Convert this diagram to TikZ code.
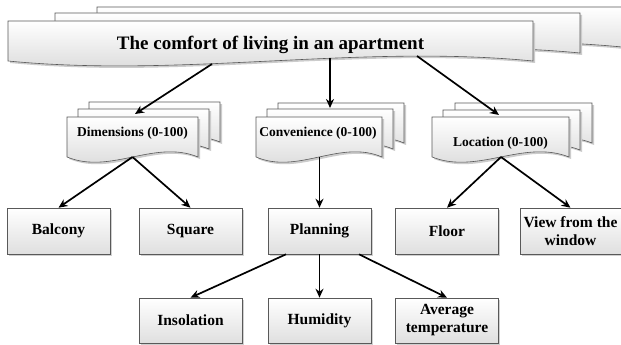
\documentclass[tikz,border=0pt]{standalone}
\usepackage{fontspec}
\setmainfont{Liberation Serif}
\usetikzlibrary{arrows.meta,shadows}
\tikzset{
  docstyle/.style={draw=gray!70!black, line width=0.6pt, top color=white, bottom color=gray!32},
  docshadow/.style={fill=gray!40},
  titletext/.style={font=\fontsize{19}{22}\selectfont\bfseries, inner sep=0pt},
  doctext/.style={font=\fontsize{13.5}{16}\selectfont\bfseries, inner sep=0pt},
  boxstyle/.style={draw=gray!70!black, line width=0.6pt, top color=white, bottom color=gray!25,
    minimum width=103pt, minimum height=46pt, inner sep=0pt, align=center,
    font=\fontsize{15.5}{18}\selectfont\bfseries,
    drop shadow={shadow xshift=1.5pt, shadow yshift=-1.5pt, fill=gray!60, opacity=0.6}},
  conn/.style={-{Stealth[length=9pt,width=8pt]}, line width=1.7pt, black},
}
% #1 x, #2 y (top), #3 width, #4 height to base, #5 wave control offset
\newcommand{\mydoc}[5]{%
  \path[docshadow] ({#1+2},{#2+2}) -- ({#1+#3+2},{#2+2}) -- ({#1+#3+2},{#2+#4+2})
    .. controls ({#1+2*#3/3+2},{#2+#4-#5+2}) and ({#1+#3/3+2},{#2+#4+#5+2}) .. ({#1+2},{#2+#4+2}) -- cycle;
  \path[docstyle] (#1,#2) -- ({#1+#3},#2) -- ({#1+#3},{#2+#4})
    .. controls ({#1+2*#3/3},{#2+#4-#5}) and ({#1+#3/3},{#2+#4+#5}) .. (#1,{#2+#4}) -- cycle;
}
\begin{document}
\begin{tikzpicture}[x=1pt,y=-1pt]
\clip (0,0) rectangle (621,345);
\fill[white] (0,0) rectangle (621,345);
% title stack
\mydoc{97}{7}{525}{40}{17}
\mydoc{55}{13}{525}{40}{17}
\mydoc{8}{21}{525}{40}{17}
% dimensions stack
\mydoc{89}{102}{131}{40}{18}
\mydoc{78}{109}{131}{40}{18}
\mydoc{67}{117}{131}{40}{18}
% convenience stack
\mydoc{278}{103}{126}{40}{18}
\mydoc{267}{109}{126}{40}{18}
\mydoc{256}{117}{126}{40}{18}
% location stack
\mydoc{455}{103}{137}{40}{18}
\mydoc{443}{110}{137}{40}{18}
\mydoc{432}{117}{137}{40}{18}

\node[titletext, anchor=base] (title) at (270.5,50) {The comfort of living in an apartment};
\node[doctext, anchor=base] (dim) at (132.5,136) {Dimensions (0-100)};
\node[doctext, anchor=base] (conv) at (318,136) {Convenience (0-100)};
\node[doctext, anchor=base] (loc) at (500.5,146) {Location (0-100)};

\coordinate (tA) at (212,64);
\coordinate (tB) at (330,58);
\coordinate (tC) at (417,56);
\coordinate (dimIn) at (135,114);
\coordinate (convIn) at (330,108);
\coordinate (locIn) at (499,115);
\coordinate (dimOut) at (132.5,157);
\coordinate (convOut) at (319.5,157);
\coordinate (locOut) at (501,157);

\node[boxstyle] (balcony) at (58.5,231) {Balcony};
\node[boxstyle] (square) at (190.5,231) {Square};
\node[boxstyle] (planning) at (319.5,231) {Planning};
\node[boxstyle] (floor) at (447,231) {Floor};
\node[boxstyle, minimum width=101pt] (view) at (570.5,231) {View from the\\window};
\node[boxstyle, minimum height=45pt] (insol) at (190.5,320.5) {Insolation};
\node[boxstyle, minimum height=45pt] (humid) at (319.5,320.5) {Humidity};
\node[boxstyle, minimum height=45pt] (avg) at (447,320.5) {Average\\temperature};

\draw[conn] (tA) -- (dimIn);
\draw[conn] (tB) -- (convIn);
\draw[conn] (tC) -- (locIn);
\draw[conn] (dimOut) -- (balcony.north);
\draw[conn] (dimOut) -- (square.north);
\draw[conn] (convOut) -- (planning.north);
\draw[conn] (locOut) -- (floor.north);
\draw[conn] (locOut) -- (view.north);
\draw[conn] ([xshift=-33.5pt]planning.south) -- (insol.north);
\draw[conn] (planning.south) -- (humid.north);
\draw[conn] ([xshift=39.5pt]planning.south) -- (avg.north);
\end{tikzpicture}
\end{document}
